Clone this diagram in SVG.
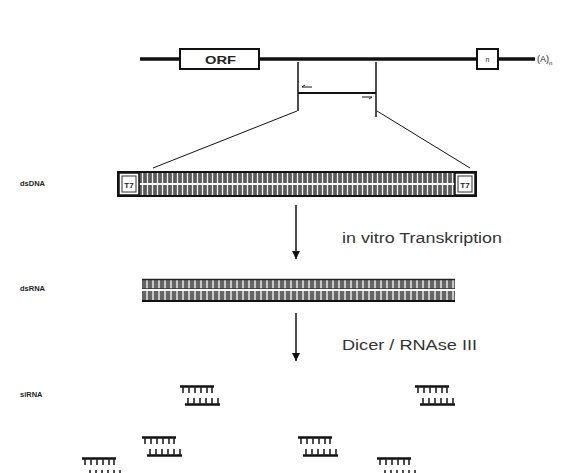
<svg xmlns="http://www.w3.org/2000/svg" width="567" height="473" viewBox="0 0 567 473">
<style>
text{font-family:"Liberation Sans",Arial,sans-serif;fill:#222}
.lbl{font-size:7.5px;font-weight:bold}
.cap{font-size:14px;fill:#333}
.ln{stroke:#111;fill:none}
.box{fill:#fff;stroke:#111;stroke-width:2}
</style>
<defs>
<pattern id="ladder" width="5" height="40" patternUnits="userSpaceOnUse">
<rect width="5" height="40" fill="#5a5a5a"/>
<line x1="2.5" y1="0" x2="2.5" y2="40" stroke="#eee" stroke-width="1.3"/>
</pattern>
<pattern id="ladder2" width="6" height="40" patternUnits="userSpaceOnUse">
<rect width="6" height="40" fill="#666"/>
<line x1="3" y1="0" x2="3" y2="40" stroke="#f2f2f2" stroke-width="1.4"/>
</pattern>
<marker id="ah" viewBox="0 0 10 10" refX="10" refY="5" markerWidth="8" markerHeight="8" markerUnits="userSpaceOnUse" orient="auto">
<path d="M0,0 L10,5 L0,10 z" fill="#111"/>
</marker>
<g id="si">
<line x1="0" y1="1.5" x2="34" y2="1.5" stroke="#111" stroke-width="2.5"/>
<path d="M3,1.5V8M9,1.5V8M15,1.5V8M21,1.5V8M27,1.5V8M32,1.5V8" stroke="#222" stroke-width="1.6"/>
<line x1="5" y1="19.5" x2="40" y2="19.5" stroke="#111" stroke-width="2.5"/>
<path d="M8,19.5V13M14,19.5V13M20,19.5V13M26,19.5V13M32,19.5V13M38,19.5V13" stroke="#222" stroke-width="1.6"/>
</g>
</defs>

<g id="connectors">
<line class="ln" x1="140" y1="59" x2="535" y2="59" stroke-width="3.5"/>
<line class="ln" x1="298" y1="62" x2="298" y2="111" stroke-width="1.5"/>
<line class="ln" x1="376" y1="62" x2="376" y2="117" stroke-width="1.5"/>
<line class="ln" x1="298" y1="93" x2="376" y2="93" stroke-width="2"/>
<path class="ln" d="M302,87 L312,87 M302,87 l3,-2" stroke-width="1"/>
<path class="ln" d="M362,97 L372,97 M372,97 l-3,2" stroke-width="1"/>
<line class="ln" x1="297" y1="111" x2="153" y2="168" stroke-width="1"/>
<line class="ln" x1="377" y1="111" x2="470" y2="168" stroke-width="1"/>
<line class="ln" x1="296" y1="205" x2="296" y2="259" stroke-width="1.5" marker-end="url(#ah)"/>
<line class="ln" x1="296" y1="313" x2="296" y2="361" stroke-width="1.5" marker-end="url(#ah)"/>
</g>

<g id="gene">
<rect class="box" x="180" y="49" width="79" height="20"/>
<text x="205" y="63.5" textLength="31" lengthAdjust="spacingAndGlyphs" style="font-size:10.5px;font-weight:bold">ORF</text>
<rect class="box" x="477" y="49" width="21" height="20"/>
<text x="487.5" y="62" text-anchor="middle" style="font-size:7px">n</text>
<text x="537" y="62" style="font-size:9px">(A)<tspan dy="3" style="font-size:6px">n</tspan></text>
</g>

<g id="dsDNA">
<text class="lbl" x="20" y="186">dsDNA</text>
<rect x="118" y="172" width="358" height="24" fill="url(#ladder)" stroke="#111" stroke-width="2"/>
<line x1="138" y1="184" x2="455" y2="184" stroke="#fafafa" stroke-width="2"/>
<rect x="119" y="173" width="20" height="22" fill="#fff" stroke="#111" stroke-width="1.5"/>
<rect x="122" y="176" width="14" height="16" fill="#fff" stroke="#333" stroke-width="1"/>
<text x="129" y="188" text-anchor="middle" style="font-size:8px;font-weight:bold">T7</text>
<rect x="455" y="173" width="20" height="22" fill="#fff" stroke="#111" stroke-width="1.5"/>
<rect x="458" y="176" width="14" height="16" fill="#fff" stroke="#333" stroke-width="1"/>
<text x="465" y="188" text-anchor="middle" style="font-size:8px;font-weight:bold">T7</text>
</g>
<text class="cap" x="342" y="243" textLength="160" lengthAdjust="spacingAndGlyphs">in vitro Transkription</text>

<g id="dsRNA">
<text class="lbl" x="20" y="291">dsRNA</text>
<rect x="142" y="279" width="313" height="22" fill="url(#ladder2)"/>
<line x1="142" y1="279.5" x2="455" y2="279.5" stroke="#222" stroke-width="1.5"/>
<line x1="142" y1="290" x2="455" y2="290" stroke="#fafafa" stroke-width="2.2"/>
<line x1="142" y1="288.5" x2="455" y2="288.5" stroke="#333" stroke-width="0.8"/>
<line x1="142" y1="301" x2="455" y2="301" stroke="#111" stroke-width="2"/>
</g>
<text class="cap" x="342" y="350" textLength="135" lengthAdjust="spacingAndGlyphs">Dicer / RNAse III</text>

<g id="siRNA">
<text class="lbl" x="20" y="397">siRNA</text>
<use href="#si" x="180" y="385"/>
<use href="#si" x="415" y="385"/>
<use href="#si" x="142" y="436"/>
<use href="#si" x="298" y="436"/>
<use href="#si" x="82" y="457"/>
<use href="#si" x="377" y="457"/>
</g>
</svg>
